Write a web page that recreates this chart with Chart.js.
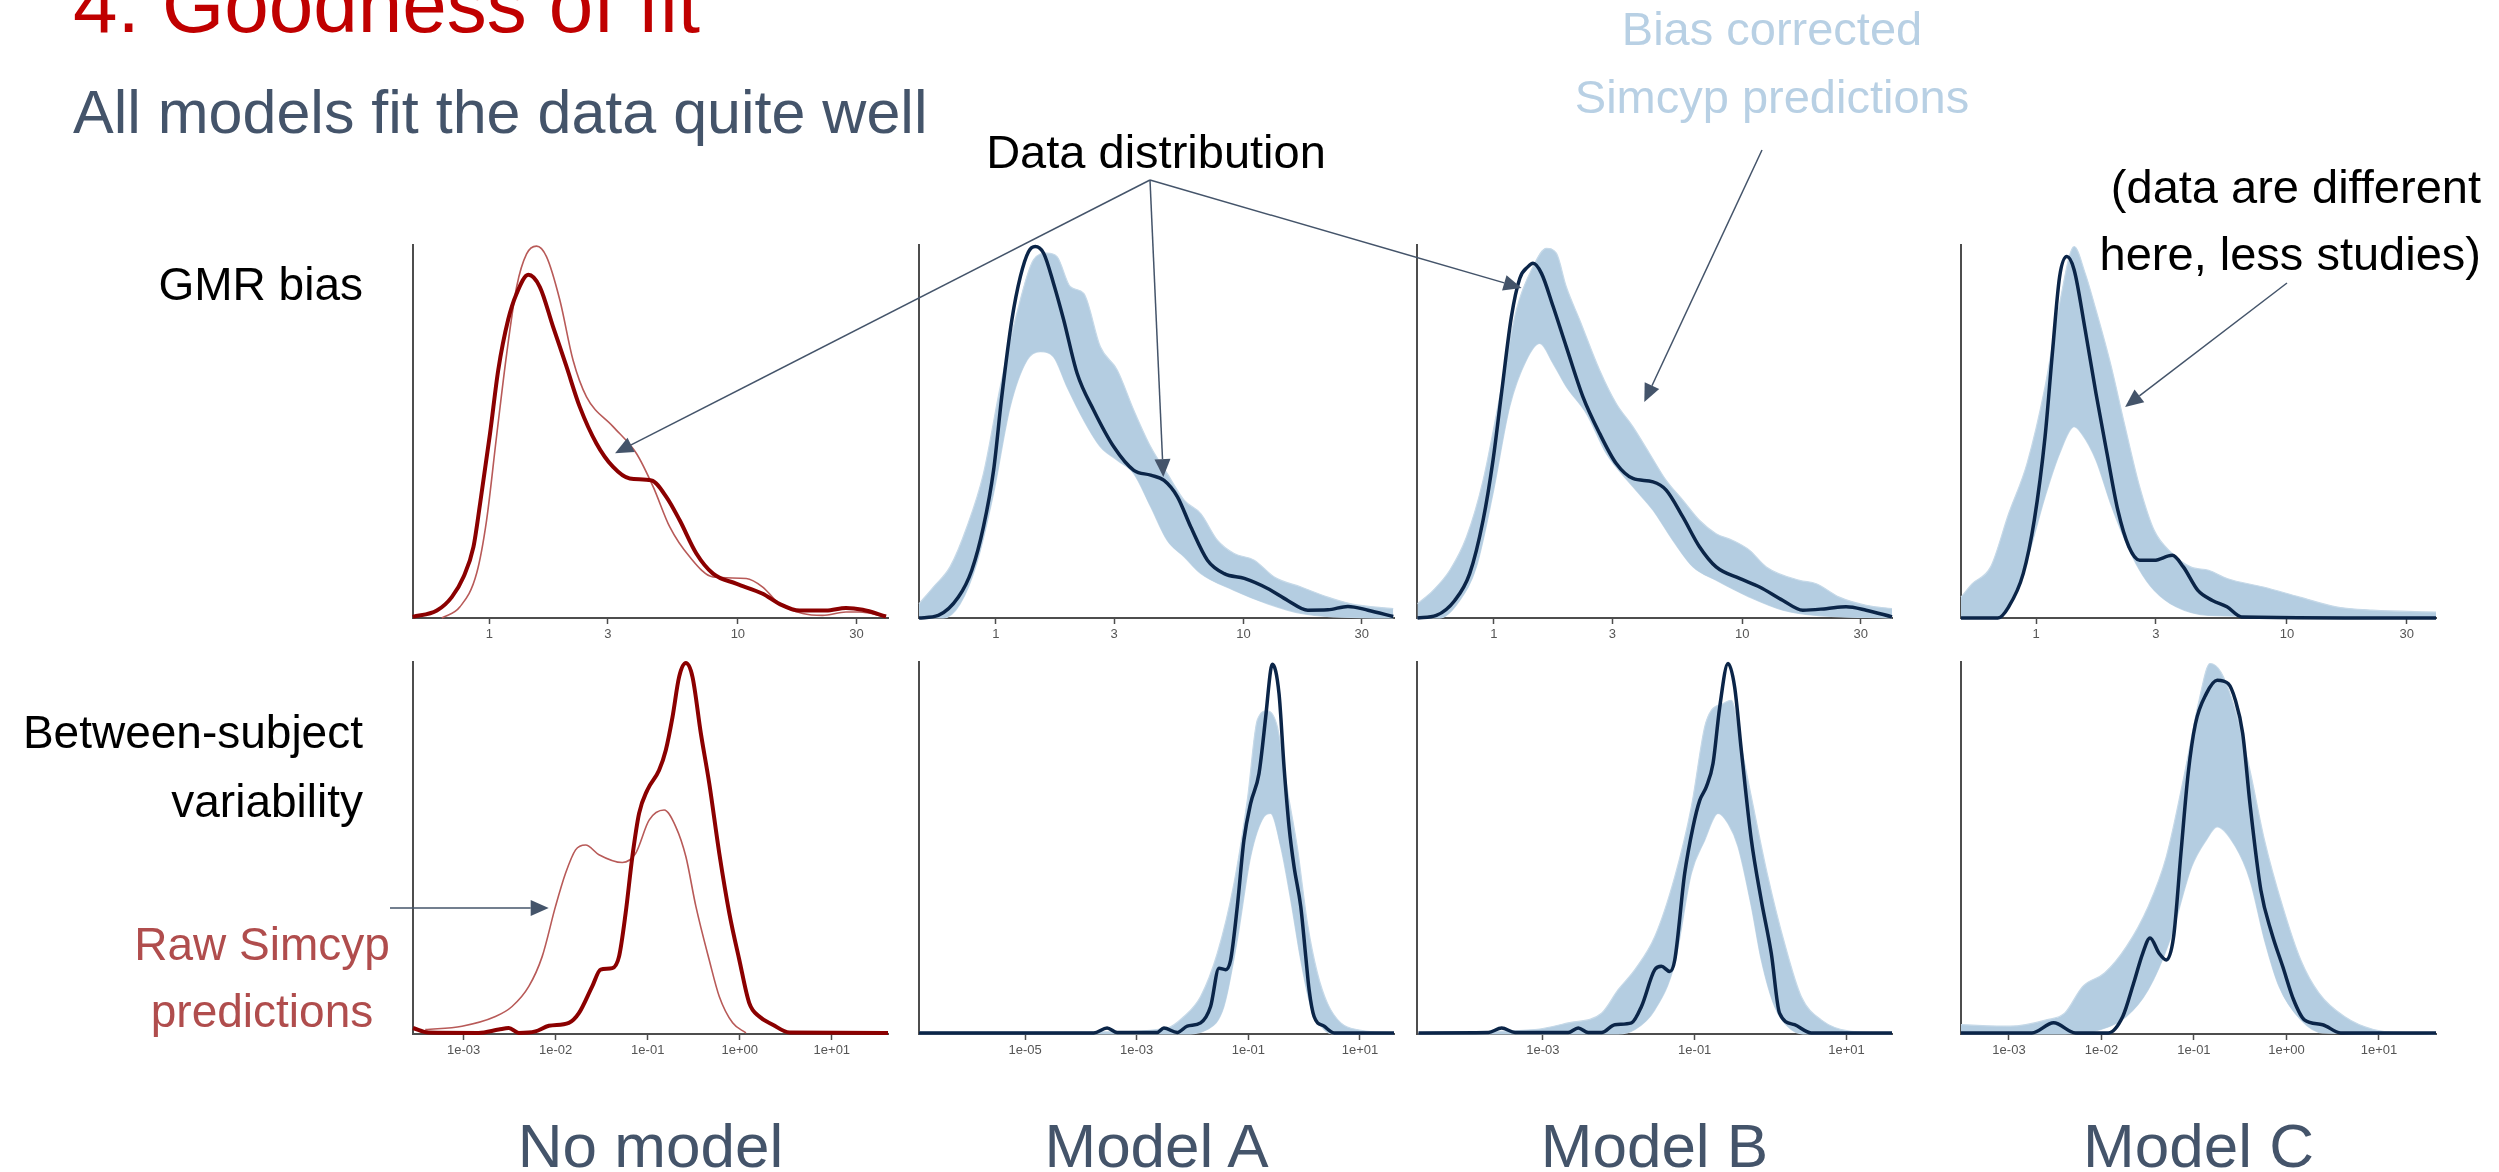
<!DOCTYPE html>
<html>
<head>
<meta charset="utf-8">
<script src="https://cdn.jsdelivr.net/npm/chart.js@4.4.1/dist/chart.umd.min.js"></script>
<style>
  html, body { margin: 0; padding: 0; background: #ffffff; }
  #slide { position: relative; width: 2499px; height: 1172px; overflow: hidden; background: #ffffff; }
  #slide canvas { position: absolute; }
  #overlay { position: absolute; left: 0; top: 0; }
</style>
</head>
<body>
<div id="slide"></div>
<script>
// ---------------------------------------------------------------------------
// Density curves. Each point is [log10(x), relative density] where density 1
// is the top of the panel's y axis.
// ---------------------------------------------------------------------------

// GMR bias, no model: observed data (thick) and raw Simcyp predictions (thin)
const gmrNoModelData = [[-0.308,0.003],[-0.211,0.02],[-0.151,0.056],[-0.104,0.11],[-0.064,0.19],[-0.037,0.307],[0.003,0.495],[0.036,0.665],[0.076,0.80],[0.11,0.87],[0.157,0.92],[0.203,0.888],[0.257,0.78],[0.31,0.675],[0.364,0.566],[0.431,0.468],[0.498,0.405],[0.565,0.374],[0.652,0.369],[0.712,0.325],[0.766,0.262],[0.833,0.173],[0.9,0.119],[0.993,0.092],[1.1,0.065],[1.167,0.038],[1.248,0.02],[1.355,0.02],[1.435,0.027],[1.502,0.022],[1.596,0.004]];
const gmrNoModelRaw = [[-0.191,0],[-0.118,0.03],[-0.051,0.12],[-0.011,0.262],[0.029,0.486],[0.07,0.709],[0.11,0.888],[0.15,0.976],[0.19,0.997],[0.23,0.969],[0.284,0.852],[0.337,0.691],[0.391,0.593],[0.498,0.513],[0.592,0.441],[0.659,0.352],[0.726,0.244],[0.806,0.164],[0.9,0.11],[1.034,0.106],[1.1,0.083],[1.167,0.038],[1.261,0.012],[1.341,0.007],[1.435,0.016],[1.489,0.016],[1.596,0.003]];

// GMR bias, model A: observed data and envelope of bias-corrected predictions
const gmrModelAData = [[-0.31,0],[-0.232,0.007],[-0.151,0.056],[-0.097,0.128],[-0.05,0.244],[-0.009,0.396],[0.024,0.593],[0.065,0.80],[0.099,0.915],[0.132,0.982],[0.159,0.996],[0.193,0.978],[0.233,0.897],[0.274,0.799],[0.328,0.656],[0.395,0.557],[0.476,0.459],[0.557,0.396],[0.625,0.383],[0.679,0.369],[0.733,0.325],[0.787,0.244],[0.854,0.155],[0.922,0.119],[1.003,0.106],[1.097,0.079],[1.178,0.047],[1.259,0.021],[1.34,0.022],[1.421,0.031],[1.502,0.021],[1.604,0.004]];
const gmrModelABandHi = [[-0.31,0.038],[-0.252,0.083],[-0.185,0.137],[-0.117,0.244],[-0.05,0.387],[0.018,0.62],[0.085,0.817],[0.152,0.96],[0.206,0.978],[0.247,0.969],[0.301,0.888],[0.355,0.87],[0.422,0.727],[0.49,0.665],[0.557,0.557],[0.625,0.459],[0.692,0.387],[0.76,0.316],[0.827,0.28],[0.895,0.208],[0.962,0.173],[1.043,0.155],[1.124,0.11],[1.232,0.083],[1.34,0.056],[1.434,0.038],[1.604,0.025]];
const gmrModelABandLo = [[-0.31,0],[-0.212,0],[-0.144,0.038],[-0.077,0.146],[-0.009,0.334],[0.058,0.566],[0.126,0.691],[0.18,0.714],[0.233,0.70],[0.287,0.62],[0.355,0.53],[0.422,0.459],[0.49,0.423],[0.557,0.387],[0.625,0.298],[0.692,0.208],[0.76,0.164],[0.827,0.119],[0.962,0.074],[1.097,0.038],[1.232,0.012],[1.367,0.003],[1.604,0]];

// GMR bias, model B
const gmrModelBData = [[-0.307,0],[-0.231,0.007],[-0.157,0.047],[-0.097,0.119],[-0.043,0.262],[-0.003,0.423],[0.031,0.602],[0.071,0.808],[0.105,0.911],[0.138,0.942],[0.158,0.951],[0.192,0.924],[0.239,0.835],[0.292,0.727],[0.359,0.593],[0.426,0.495],[0.493,0.414],[0.56,0.374],[0.641,0.365],[0.694,0.343],[0.761,0.271],[0.828,0.191],[0.895,0.137],[0.989,0.106],[1.07,0.083],[1.164,0.047],[1.244,0.021],[1.338,0.025],[1.418,0.03],[1.499,0.021],[1.603,0.003]];
const gmrModelBBandHi = [[-0.307,0.038],[-0.244,0.074],[-0.177,0.128],[-0.11,0.217],[-0.043,0.369],[0.024,0.593],[0.091,0.826],[0.158,0.942],[0.212,0.991],[0.252,0.978],[0.292,0.888],[0.346,0.799],[0.426,0.665],[0.493,0.575],[0.56,0.513],[0.627,0.441],[0.694,0.369],[0.761,0.316],[0.828,0.262],[0.895,0.226],[0.962,0.208],[1.029,0.182],[1.097,0.137],[1.231,0.101],[1.298,0.092],[1.391,0.056],[1.499,0.034],[1.603,0.025]];
const gmrModelBBandLo = [[-0.307,0],[-0.217,0],[-0.137,0.047],[-0.07,0.137],[-0.003,0.334],[0.064,0.566],[0.131,0.691],[0.185,0.736],[0.239,0.682],[0.292,0.62],[0.373,0.548],[0.453,0.441],[0.56,0.352],[0.641,0.289],[0.721,0.208],[0.802,0.137],[0.895,0.101],[1.029,0.056],[1.164,0.021],[1.298,0.007],[1.603,0]];

// GMR bias, model C (fewer studies)
const gmrModelCData = [[-0.299,0],[-0.152,0],[-0.109,0.03],[-0.051,0.119],[-0.007,0.262],[0.036,0.486],[0.065,0.709],[0.094,0.915],[0.123,0.969],[0.152,0.933],[0.196,0.772],[0.239,0.602],[0.283,0.441],[0.326,0.289],[0.37,0.191],[0.413,0.155],[0.471,0.155],[0.543,0.168],[0.587,0.137],[0.645,0.074],[0.703,0.047],[0.761,0.03],[0.819,0.003],[1.594,0]];
const gmrModelCBandHi = [[-0.299,0.056],[-0.254,0.092],[-0.181,0.137],[-0.109,0.28],[-0.036,0.414],[0.036,0.62],[0.094,0.843],[0.152,0.996],[0.196,0.924],[0.239,0.826],[0.297,0.682],[0.355,0.513],[0.413,0.352],[0.471,0.235],[0.543,0.173],[0.616,0.137],[0.688,0.128],[0.761,0.106],[0.906,0.083],[1.051,0.056],[1.196,0.03],[1.341,0.021],[1.594,0.016]];
const gmrModelCBandLo = [[-0.299,0],[-0.167,0],[-0.109,0.038],[-0.036,0.155],[0.036,0.325],[0.094,0.441],[0.152,0.513],[0.181,0.495],[0.239,0.423],[0.297,0.307],[0.355,0.208],[0.413,0.128],[0.471,0.074],[0.558,0.03],[0.688,0.007],[1.594,0]];

// Between-subject variability, no model
const bsvNoModelData = [[-3.55,0.016],[-3.38,0.004],[-2.837,0.003],[-2.619,0.012],[-2.51,0.016],[-2.401,0.003],[-2.22,0.007],[-2.074,0.022],[-1.857,0.03],[-1.748,0.056],[-1.603,0.128],[-1.512,0.173],[-1.385,0.177],[-1.312,0.208],[-1.24,0.325],[-1.167,0.477],[-1.094,0.593],[-1.004,0.656],[-0.877,0.709],[-0.804,0.763],[-0.731,0.852],[-0.659,0.96],[-0.586,0.997],[-0.514,0.96],[-0.423,0.808],[-0.332,0.674],[-0.223,0.486],[-0.114,0.325],[-0.005,0.199],[0.103,0.083],[0.212,0.047],[0.358,0.025],[0.539,0.004],[1.61,0.003]];
const bsvNoModelRaw = [[-3.417,0.012],[-3.018,0.021],[-2.655,0.047],[-2.474,0.074],[-2.292,0.128],[-2.147,0.208],[-2.002,0.343],[-1.893,0.432],[-1.784,0.495],[-1.675,0.508],[-1.53,0.482],[-1.276,0.461],[-1.131,0.486],[-0.985,0.575],[-0.822,0.602],[-0.695,0.557],[-0.586,0.477],[-0.477,0.343],[-0.332,0.199],[-0.223,0.101],[-0.078,0.03],[0.067,0.003]];

// Between-subject variability, model A
const bsvModelAData = [[-6.9,0.003],[-3.769,0.003],[-3.53,0.016],[-3.35,0.004],[-2.633,0.004],[-2.513,0.016],[-2.274,0.004],[-2.094,0.021],[-1.855,0.03],[-1.676,0.074],[-1.526,0.177],[-1.407,0.173],[-1.317,0.199],[-1.197,0.343],[-1.078,0.522],[-0.958,0.62],[-0.809,0.70],[-0.689,0.852],[-0.6,0.978],[-0.569,0.994],[-0.45,0.915],[-0.36,0.718],[-0.27,0.557],[-0.181,0.45],[-0.061,0.343],[0.029,0.208],[0.089,0.119],[0.178,0.047],[0.358,0.021],[0.537,0.003],[1.61,0.003]];
const bsvModelABandHi = [[-6.9,0.005],[-3.5,0.006],[-2.453,0.016],[-2.154,0.047],[-1.855,0.101],[-1.556,0.217],[-1.257,0.405],[-1.018,0.629],[-0.839,0.844],[-0.659,0.869],[-0.48,0.826],[-0.3,0.656],[-0.12,0.5],[0.059,0.298],[0.238,0.164],[0.417,0.083],[0.657,0.03],[1.016,0.01],[1.61,0.003]];
const bsvModelABandLo = [[-6.9,0],[-2.154,0],[-1.736,0.012],[-1.437,0.074],[-1.197,0.253],[-0.958,0.477],[-0.719,0.584],[-0.599,0.593],[-0.42,0.504],[-0.24,0.36],[-0.061,0.199],[0.118,0.074],[0.358,0.012],[0.537,0],[1.61,0]];

// Between-subject variability, model B
const bsvModelBData = [[-4.64,0.003],[-3.719,0.004],[-3.544,0.016],[-3.368,0.004],[-2.667,0.004],[-2.535,0.016],[-2.404,0.004],[-2.228,0.004],[-2.053,0.025],[-1.833,0.03],[-1.702,0.074],[-1.526,0.173],[-1.439,0.182],[-1.329,0.168],[-1.263,0.199],[-1.132,0.432],[-1.022,0.557],[-0.934,0.628],[-0.846,0.665],[-0.759,0.727],[-0.671,0.878],[-0.561,0.996],[-0.474,0.933],[-0.386,0.763],[-0.254,0.522],[-0.123,0.36],[0.009,0.217],[0.118,0.056],[0.316,0.025],[0.535,0.003],[1.6,0.003]];
const bsvModelBBandHi = [[-4.64,0.004],[-3.105,0.012],[-2.667,0.03],[-2.228,0.056],[-2.009,0.119],[-1.789,0.173],[-1.526,0.262],[-1.263,0.423],[-1.044,0.611],[-0.868,0.826],[-0.781,0.87],[-0.627,0.888],[-0.518,0.897],[-0.386,0.772],[-0.254,0.638],[-0.035,0.423],[0.184,0.244],[0.404,0.101],[0.667,0.038],[1.061,0.007],[1.6,0.003]];
const bsvModelBBandLo = [[-4.64,0],[-2.009,0],[-1.789,0.012],[-1.526,0.065],[-1.263,0.19],[-1.044,0.432],[-0.868,0.521],[-0.693,0.593],[-0.561,0.566],[-0.43,0.504],[-0.254,0.343],[-0.123,0.199],[0.053,0.074],[0.272,0.012],[0.491,0],[1.6,0]];

// Between-subject variability, model C
const bsvModelCData = [[-3.519,0.003],[-2.752,0.003],[-2.517,0.03],[-2.281,0.003],[-1.927,0.003],[-1.77,0.047],[-1.652,0.137],[-1.554,0.217],[-1.475,0.258],[-1.377,0.217],[-1.299,0.199],[-1.22,0.262],[-1.141,0.486],[-1.063,0.70],[-0.984,0.834],[-0.866,0.915],[-0.749,0.951],[-0.631,0.942],[-0.552,0.897],[-0.473,0.808],[-0.395,0.62],[-0.277,0.387],[-0.159,0.271],[-0.041,0.182],[0.077,0.092],[0.194,0.038],[0.391,0.025],[0.587,0.003],[1.617,0.003]];
const bsvModelCBandHi = [[-3.519,0.025],[-2.988,0.021],[-2.595,0.038],[-2.399,0.056],[-2.202,0.128],[-1.967,0.164],[-1.731,0.235],[-1.495,0.343],[-1.299,0.477],[-1.102,0.70],[-0.945,0.897],[-0.827,0.996],[-0.709,0.973],[-0.552,0.87],[-0.395,0.709],[-0.238,0.522],[-0.041,0.343],[0.155,0.199],[0.352,0.11],[0.627,0.047],[0.941,0.012],[1.334,0.003],[1.617,0]];
const bsvModelCBandLo = [[-3.519,0],[-2.399,0],[-2.006,0.012],[-1.731,0.047],[-1.495,0.119],[-1.259,0.253],[-1.024,0.45],[-0.866,0.522],[-0.749,0.557],[-0.552,0.504],[-0.395,0.414],[-0.238,0.253],[-0.081,0.128],[0.155,0.038],[0.391,0.003],[1.617,0]];

// Axis ticks
const gmrTicks = [1, 3, 10, 30];
const gmrTickLabels = ['1', '3', '10', '30'];
const bsvTicksWide = [1e-3, 1e-2, 1e-1, 1, 10];
const bsvTickLabelsWide = ['1e-03', '1e-02', '1e-01', '1e+00', '1e+01'];
const bsvTicksModelA = [1e-5, 1e-3, 1e-1, 10];
const bsvTickLabelsModelA = ['1e-05', '1e-03', '1e-01', '1e+01'];
const bsvTicksModelB = [1e-3, 1e-1, 10];
const bsvTickLabelsModelB = ['1e-03', '1e-01', '1e+01'];

// Column captions
const columnTitles = ['No model', 'Model A', 'Model B', 'Model C'];

// ---------------------------------------------------------------------------
// Styling and layout
// ---------------------------------------------------------------------------
const FONT = '"Liberation Sans", Arial, sans-serif';
const AXIS = '#4d4d4d';
const TICK_TEXT = '#555555';
const DATA_RED = '#8b0000';
const RAW_RED = '#b85a58';
const NAVY = '#0b2548';
const BAND_FILL = '#b4cde1';
const BAND_EDGE = '#c6d9e8';
const SLATE = '#44546a';

const COL_LEFT = [413, 919, 1417, 1961];
const COL_W = 475;
const ROW_TOP = [245, 662];
const ROW_H = [373, 372];

const panels = [
  { col: 0, row: 0, range: [-0.307, 1.604], ticks: gmrTicks, labels: gmrTickLabels,
    series: [['data', gmrNoModelData], ['raw', gmrNoModelRaw]] },
  { col: 1, row: 0, range: [-0.31, 1.607], ticks: gmrTicks, labels: gmrTickLabels,
    series: [['navy', gmrModelAData], ['bandHi', gmrModelABandHi], ['bandLo', gmrModelABandLo]] },
  { col: 2, row: 0, range: [-0.309, 1.603], ticks: gmrTicks, labels: gmrTickLabels,
    series: [['navy', gmrModelBData], ['bandHi', gmrModelBBandHi], ['bandLo', gmrModelBBandLo]] },
  { col: 3, row: 0, range: [-0.299, 1.594], ticks: gmrTicks, labels: gmrTickLabels,
    series: [['navy', gmrModelCData], ['bandHi', gmrModelCBandHi], ['bandLo', gmrModelCBandLo]] },
  { col: 0, row: 1, range: [-3.55, 1.61], ticks: bsvTicksWide, labels: bsvTickLabelsWide,
    series: [['data', bsvNoModelData], ['raw', bsvNoModelRaw]] },
  { col: 1, row: 1, range: [-6.9, 1.61], ticks: bsvTicksModelA, labels: bsvTickLabelsModelA,
    series: [['navy', bsvModelAData], ['bandHi', bsvModelABandHi], ['bandLo', bsvModelABandLo]] },
  { col: 2, row: 1, range: [-4.66, 1.60], ticks: bsvTicksModelB, labels: bsvTickLabelsModelB,
    series: [['navy', bsvModelBData], ['bandHi', bsvModelBBandHi], ['bandLo', bsvModelBBandLo]] },
  { col: 3, row: 1, range: [-3.519, 1.617], ticks: bsvTicksWide, labels: bsvTickLabelsWide,
    series: [['navy', bsvModelCData], ['bandHi', bsvModelCBandHi], ['bandLo', bsvModelCBandLo]] }
];

const toPoints = arr => arr.map(([lx, d]) => ({ x: Math.pow(10, lx), y: d }));

function datasetFor(kind, arr) {
  const base = { data: toPoints(arr), pointRadius: 0, cubicInterpolationMode: 'monotone', clip: false, fill: false };
  if (kind === 'data') return { ...base, borderColor: DATA_RED, borderWidth: 4 };
  if (kind === 'raw') return { ...base, borderColor: RAW_RED, borderWidth: 1.6 };
  if (kind === 'navy') return { ...base, borderColor: NAVY, borderWidth: 3.5 };
  if (kind === 'bandHi') return { ...base, borderColor: BAND_EDGE, borderWidth: 1.2, backgroundColor: BAND_FILL, fill: '+1' };
  return { ...base, borderColor: BAND_EDGE, borderWidth: 1.2 };
}

const slide = document.getElementById('slide');
const PAD_L = 30, PAD_R = 30, PAD_T = 12, AXIS_H = 40;

function buildPanel(p) {
  const left = COL_LEFT[p.col], top = ROW_TOP[p.row], h = ROW_H[p.row];
  const canvas = document.createElement('canvas');
  canvas.width = COL_W + PAD_L + PAD_R;
  canvas.height = h + PAD_T + AXIS_H;
  canvas.style.left = (left - PAD_L) + 'px';
  canvas.style.top = (top - PAD_T) + 'px';
  slide.appendChild(canvas);
  const chart = new Chart(canvas, {
    type: 'line',
    data: { datasets: p.series.map(([k, a]) => datasetFor(k, a)) },
    options: {
      responsive: false,
      animation: false,
      devicePixelRatio: 1,
      layout: { padding: { left: PAD_L, right: PAD_R, top: PAD_T, bottom: 0 } },
      plugins: { legend: { display: false }, tooltip: { enabled: false } },
      scales: {
        x: {
          type: 'logarithmic',
          bounds: 'data',
          min: Math.pow(10, p.range[0]),
          max: Math.pow(10, p.range[1]),
          afterBuildTicks: ax => { ax.ticks = p.ticks.map(v => ({ value: v })); },
          afterFit: ax => { ax.height = AXIS_H; },
          grid: { display: true, drawOnChartArea: false, drawTicks: true, tickLength: 6, tickColor: AXIS, tickWidth: 1.5 },
          border: { display: true, color: AXIS, width: 2 },
          ticks: {
            autoSkip: false, maxRotation: 0, minRotation: 0, padding: 3,
            color: TICK_TEXT, font: { family: FONT, size: 13 },
            callback: (v, i) => p.labels[i]
          }
        },
        y: {
          min: 0, max: 1,
          afterFit: ax => { ax.width = 0; },
          ticks: { display: false },
          grid: { display: true, drawOnChartArea: false, drawTicks: false },
          border: { display: true, color: AXIS, width: 2 }
        }
      }
    }
  });
  return { chart, left: left - PAD_L, top: top - PAD_T };
}

const built = panels.map(buildPanel);

// ---------------------------------------------------------------------------
// Text and callout arrows
// ---------------------------------------------------------------------------
const SVG_NS = 'http://www.w3.org/2000/svg';
const svg = document.createElementNS(SVG_NS, 'svg');
svg.setAttribute('id', 'overlay');
svg.setAttribute('width', 2499);
svg.setAttribute('height', 1172);
slide.appendChild(svg);

function addText(str, x, y, size, fill, anchor) {
  const t = document.createElementNS(SVG_NS, 'text');
  t.setAttribute('x', x);
  t.setAttribute('y', y);
  t.setAttribute('font-family', FONT);
  t.setAttribute('font-size', size);
  t.setAttribute('fill', fill);
  t.setAttribute('text-anchor', anchor || 'start');
  t.textContent = str;
  svg.appendChild(t);
}

addText('4. Goodness of fit', 73, 32, 80, '#c00000');
addText('All models fit the data quite well', 73, 133, 61, SLATE);

addText('GMR bias', 363, 300, 46, '#000000', 'end');
addText('Between-subject', 363, 748, 46, '#000000', 'end');
addText('variability', 363, 817, 46, '#000000', 'end');
addText('Raw Simcyp', 262, 960, 46, '#b04d4d', 'middle');
addText('predictions', 262, 1027, 46, '#b04d4d', 'middle');

addText('Data distribution', 1156, 168, 47, '#000000', 'middle');
addText('Bias corrected', 1772, 45, 47, '#b8d0e4', 'middle');
addText('Simcyp predictions', 1772, 113, 47, '#b8d0e4', 'middle');
addText('(data are different', 2481, 203, 47, '#000000', 'end');
addText('here, less studies)', 2481, 270, 47, '#000000', 'end');

columnTitles.forEach((s, i) => addText(s, COL_LEFT[i] + COL_W / 2, 1167, 62, SLATE, 'middle'));

// Arrow tips are given in the target panel's own data coordinates
function pagePoint(panelIndex, lx, d) {
  const b = built[panelIndex];
  return [b.left + b.chart.scales.x.getPixelForValue(Math.pow(10, lx)),
          b.top + b.chart.scales.y.getPixelForValue(d)];
}

function addArrow(x0, y0, tip) {
  const [x1, y1] = tip;
  const dx = x1 - x0, dy = y1 - y0, len = Math.hypot(dx, dy);
  const ux = dx / len, uy = dy / len;
  const L = 18, W = 8;
  const bx = x1 - ux * L, by = y1 - uy * L;
  const line = document.createElementNS(SVG_NS, 'line');
  line.setAttribute('x1', x0); line.setAttribute('y1', y0);
  line.setAttribute('x2', bx); line.setAttribute('y2', by);
  line.setAttribute('stroke', SLATE); line.setAttribute('stroke-width', 1.5);
  svg.appendChild(line);
  const head = document.createElementNS(SVG_NS, 'polygon');
  head.setAttribute('points', `${x1},${y1} ${bx - uy * W},${by + ux * W} ${bx + uy * W},${by - ux * W}`);
  head.setAttribute('fill', SLATE);
  svg.appendChild(head);
}

addArrow(1150, 180, pagePoint(0, 0.506, 0.442));
addArrow(1150, 180, pagePoint(1, 0.676, 0.378));
addArrow(1150, 180, pagePoint(2, 0.112, 0.885));
addArrow(1762, 150, pagePoint(2, 0.606, 0.579));
addArrow(2287, 283, pagePoint(3, 0.355, 0.566));
addArrow(390, 908, pagePoint(4, -2.076, 0.339));
</script>
</body>
</html>
